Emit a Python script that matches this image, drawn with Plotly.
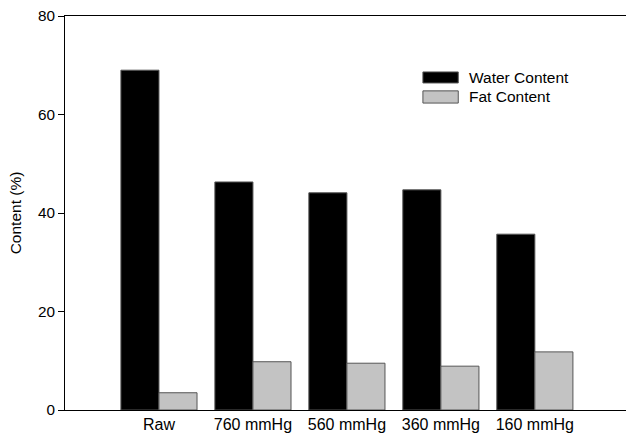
import plotly.graph_objects as go

categories = ["Raw", "760 mmHg", "560 mmHg", "360 mmHg", "160 mmHg"]
water = [69.0, 46.3, 44.1, 44.7, 35.7]
fat = [3.5, 9.8, 9.5, 8.9, 11.8]
y_ticks = [0, 20, 40, 60, 80]

fig = go.Figure()
fig.add_bar(x=categories, y=water, name="Water Content",
            marker=dict(color="#000000", line=dict(color="#555555", width=1)))
fig.add_bar(x=categories, y=fat, name="Fat Content",
            marker=dict(color="#c3c3c3", line=dict(color="#555555", width=1)))

fam = "Liberation Sans, Arial, sans-serif"
xfont = dict(family=fam, size=16, color="#000000")
yfont = dict(family=fam, size=15.3, color="#000000")
tfont = dict(family=fam, size=15.5, color="#000000")

fig.update_layout(
    width=626, height=436,
    margin=dict(l=65, r=0, t=16, b=26),
    paper_bgcolor="white", plot_bgcolor="white",
    barmode="group", bargap=0.19, bargroupgap=0,
    showlegend=False,
    font=tfont,
    xaxis=dict(range=[-1, 4.97], showline=True, linecolor="#000000", linewidth=1,
               mirror=True, ticks="", showgrid=False, tickfont=xfont, zeroline=False),
    yaxis=dict(range=[0, 80], tickvals=y_ticks, showline=True, linecolor="#000000",
               linewidth=1, ticks="outside", ticklen=6, tickcolor="#000000",
               showgrid=False, zeroline=False, tickfont=yfont,
               title=dict(text="Content (%)", font=tfont, standoff=12)),
)

# legend drawn manually to match the wide swatches
legend_items = [("Water Content", "#000000", 0.858, 0.830),
                ("Fat Content", "#c3c3c3", 0.810, 0.779)]
for label, color, y1, y0 in legend_items:
    fig.add_shape(type="rect", xref="paper", yref="paper", x0=0.638, x1=0.701,
                  y0=y0, y1=y1, fillcolor=color, line=dict(color="#555555", width=1))
    fig.add_annotation(xref="paper", yref="paper", x=0.716, y=(y0 + y1) / 2,
                       text=label, showarrow=False, xanchor="left", yanchor="middle",
                       font=tfont)

fig.write_html("out.html")
